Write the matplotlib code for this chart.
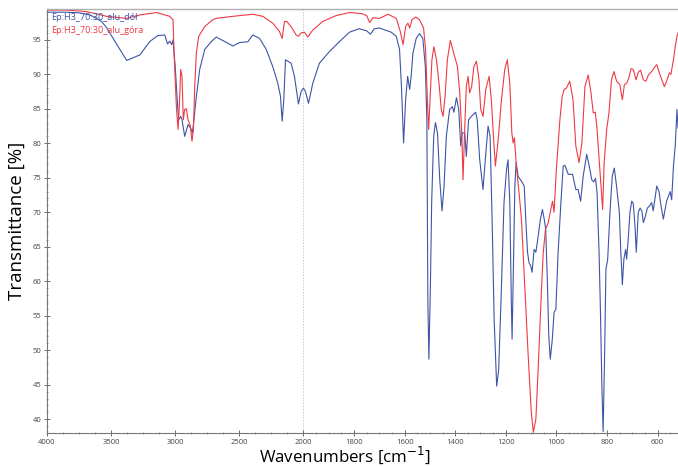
"""FTIR transmittance spectra of the two H3 70:30 samples on aluminium."""

import matplotlib
matplotlib.use("Agg")
import matplotlib.pyplot as plt
import numpy as np
from matplotlib.ticker import FixedLocator, MultipleLocator

plt.rcParams["font.family"] = ["Open Sans", "DejaVu Sans"]

BLUE_LABEL = "Ep:H3_70:30_alu_dół"
RED_LABEL = "Ep:H3_70:30_alu_góra"

# wavenumber [cm-1], transmittance [%]
blue_wn = [4000, 3850, 3750, 3665, 3574, 3533, 3455, 3378, 3276, 3198, 3136, 3082, 3060, 3043,
           3027, 3017, 3000, 2983, 2973, 2957, 2947, 2926, 2900, 2880, 2866, 2854, 2835, 2809,
           2770, 2720, 2680, 2620, 2550, 2498, 2434, 2395, 2342, 2290, 2239, 2200, 2179, 2166,
           2153, 2140, 2122, 2096, 2070, 2039, 2018, 2000, 1992, 1980, 1963, 1937, 1897, 1857,
           1818, 1780, 1750, 1735, 1720, 1699, 1653, 1633, 1620, 1613, 1604, 1596, 1588, 1580,
           1574, 1567, 1554, 1541, 1528, 1518, 1512, 1508, 1504, 1498, 1493, 1485, 1478, 1470,
           1461, 1452, 1444, 1435, 1422, 1411, 1405, 1395, 1386, 1378, 1372, 1362, 1356, 1347,
           1336, 1319, 1313, 1303, 1290, 1281, 1270, 1262, 1254, 1246, 1236, 1228, 1217, 1207,
           1197, 1191, 1184, 1178, 1175, 1170, 1164, 1159, 1151, 1138, 1127, 1121, 1114, 1108,
           1101, 1096, 1088, 1081, 1072, 1063, 1055, 1048, 1042, 1035, 1030, 1024, 1016, 1009,
           1002, 993, 982, 973, 966, 953, 936, 923, 914, 904, 894, 880, 870, 860, 852, 845,
           839, 831, 825, 820, 815, 809, 804, 797, 788, 779, 771, 762, 751, 745, 739, 733,
           726, 722, 715, 709, 702, 696, 689, 684, 676, 669, 662, 656, 649, 640, 632, 623,
           617, 603, 594, 586, 577, 570, 564, 557, 550, 544, 537, 530, 523, 519]
blue_t = [99.0, 99.0, 98.9, 98.6, 97.65, 96.7, 94.3, 92.0, 92.8, 94.75, 95.6, 95.7, 94.4, 94.8,
          94.3, 95.0, 91.1, 85.9, 83.4, 83.9, 83.4, 81.0, 82.7, 82.2, 81.5, 83.4, 86.8, 90.7,
          93.6, 94.7, 95.4, 94.8, 94.1, 94.6, 94.7, 95.7, 95.2, 93.6, 91.1, 88.7, 86.8, 83.2,
          86.3, 92.1, 91.9, 91.6, 89.7, 85.7, 87.5, 88.0, 87.5, 85.8, 88.7, 91.6, 93.3, 94.75,
          96.1, 96.6, 96.3, 95.8, 96.6, 96.7, 96.1, 95.5, 93.6, 88.7, 80.05, 86.3, 89.7, 87.8,
          89.7, 93.1, 95.2, 95.9, 95.2, 91.1, 83.4, 56.9, 48.7, 59.3, 71.4, 81.0, 83.0, 81.5,
          74.7, 70.2, 73.8, 81.0, 84.9, 85.3, 84.5, 86.6, 84.9, 79.6, 81.5, 81.5, 78.1, 83.4,
          83.9, 84.5, 83.4, 77.6, 73.3, 77.6, 82.5, 81.0, 69.0, 54.5, 44.8, 47.2, 59.3, 71.4,
          76.2, 77.6, 71.4, 56.9, 51.6, 61.7, 73.8, 77.2, 75.2, 74.5, 73.8, 69.0, 64.2, 62.7,
          62.2, 61.3, 64.6, 64.2, 66.5, 69.0, 70.4, 69.0, 67.5, 59.3, 52.1, 48.7, 51.6, 55.5,
          55.9, 64.2, 71.4, 76.7, 76.8, 75.5, 75.5, 73.3, 73.3, 71.6, 75.2, 78.4, 76.7, 74.7, 74.4, 74.9,
          72.8, 64.1, 54.5, 44.8, 38.2, 49.7, 61.7, 63.2, 70.0, 75.2, 76.4, 73.8, 70.0, 64.2, 59.5, 63.2,
          64.6, 63.2, 66.5, 70.0, 71.6, 71.3, 68.0, 64.2, 70.0, 70.6, 70.2, 68.5, 69.3, 70.6, 70.9, 71.4,
          70.2, 73.8, 73.0, 70.9, 69.0, 70.4, 71.6, 72.3, 73.0, 71.8, 76.7, 79.6, 84.9, 82.2]

red_wn = [4000, 3850, 3700, 3600, 3536, 3380, 3276, 3146, 3043, 3017, 3009, 2991, 2978, 2967,
          2957, 2947, 2937, 2926, 2913, 2900, 2882, 2869, 2858, 2848, 2835, 2817, 2770, 2708,
          2680, 2550, 2395, 2317, 2239, 2187, 2166, 2148, 2130, 2096, 2057, 2039, 2018, 1996,
          1983, 1963, 1924, 1871, 1818, 1770, 1750, 1738, 1725, 1699, 1666, 1633, 1617, 1606,
          1596, 1587, 1580, 1571, 1556, 1541, 1525, 1517, 1510, 1505, 1498, 1492, 1484, 1474,
          1464, 1455, 1448, 1440, 1431, 1419, 1406, 1391, 1382, 1374, 1369, 1362, 1356, 1349,
          1343, 1335, 1326, 1316, 1306, 1299, 1290, 1279, 1266, 1257, 1248, 1241, 1230, 1217,
          1204, 1194, 1184, 1176, 1171, 1166, 1158, 1145, 1138, 1125, 1112, 1099, 1091, 1081,
          1072, 1061, 1052, 1043, 1032, 1022, 1015, 1009, 1000, 986, 977, 969, 960, 947, 934,
          923, 910, 899, 887, 874, 863, 854, 846, 839, 828, 817, 811, 801, 792, 782, 772, 762,
          749, 739, 731, 722, 713, 705, 696, 685, 676, 667, 656, 646, 636, 623, 610, 603, 593,
          583, 573, 564, 553, 547, 537, 530, 523, 519]
red_t = [99.3, 99.3, 99.1, 98.7, 98.4, 98.1, 98.6, 98.95, 98.4, 97.9, 93.1, 85.35, 82.0, 85.8,
         90.7, 89.7, 83.4, 84.9, 85.0, 83.4, 82.5, 80.3, 82.0, 88.2, 93.1, 95.5, 96.9, 97.9,
         98.1, 98.4, 98.7, 98.4, 97.4, 96.2, 95.2, 97.65, 97.65, 96.9, 95.7, 95.5, 96.0, 96.1,
         95.4, 96.4, 97.65, 98.5, 98.95, 98.8, 98.5, 97.5, 98.2, 98.1, 98.7, 98.1, 96.2, 94.3,
         96.9, 97.4, 96.7, 97.9, 98.3, 97.9, 96.7, 93.55, 86.3, 82.0, 87.3, 92.1, 94.0, 92.1,
         88.7, 84.9, 83.9, 86.8, 92.1, 94.9, 93.1, 91.1, 87.3, 81.5, 74.7, 82.5, 88.2, 89.7,
         87.3, 88.2, 91.1, 91.9, 89.2, 84.9, 83.9, 87.8, 89.7, 86.3, 80.5, 76.7, 80.5, 86.3,
         90.7, 92.1, 88.7, 81.5, 80.05, 80.8, 76.7, 71.85, 69.0, 59.3, 49.7, 41.0, 38.1, 40.0,
         47.2, 56.9, 64.1, 67.5, 68.5, 70.4, 71.6, 70.0, 76.2, 83.4, 86.8, 87.8, 88.0, 89.0, 86.3,
         79.6, 77.2, 80.05, 88.2, 89.9, 87.3, 84.4, 84.5, 82.0, 76.2, 70.4, 77.2, 82.0, 84.4, 89.2, 90.4, 89.0,
         88.5, 86.3, 88.5, 88.7, 89.5, 90.8, 90.7, 89.2, 90.3, 90.6, 89.2, 89.0, 89.9, 90.4, 91.1, 91.4, 90.2,
         89.2, 88.2, 89.0, 90.2, 90.0, 92.1, 94.0, 95.5, 96.0]

x_major = [4000, 3500, 3000, 2500, 2000, 1800, 1600, 1400, 1200, 1000, 800, 600]

# spectrometer style axis: the range above 2000 cm-1 is compressed by about half
BREAK = 2000.0
SQUEEZE = 0.507


def forward(w):
    w = np.asarray(w, dtype=float)
    return np.where(w > BREAK, BREAK + (w - BREAK) * SQUEEZE, w)


def inverse(t):
    t = np.asarray(t, dtype=float)
    return np.where(t > BREAK, BREAK + (t - BREAK) / SQUEEZE, t)


def main():
    fig = plt.figure(figsize=(6.78, 4.66), dpi=100)
    ax = fig.add_axes([0.0693, 0.0708, 0.9307, 0.909])
    ax.set_xscale("function", functions=(forward, inverse))

    ax.plot(blue_wn, blue_t, color="#3d55a6", linewidth=0.8, label=BLUE_LABEL)
    ax.plot(red_wn, red_t, color="#ee3a44", linewidth=0.8, label=RED_LABEL)
    ax.axvline(BREAK, color="#c8c8c8", linewidth=0.7, linestyle=(0, (1.5, 1.5)), zorder=0)

    ax.set_xlim(4000, 519)
    ax.set_ylim(38.0, 99.4)

    ax.xaxis.set_major_locator(FixedLocator(x_major))
    minor = list(np.arange(3875, 2000, -125)) + list(np.arange(1950, 500, -50))
    ax.xaxis.set_minor_locator(FixedLocator([m for m in minor if m not in x_major]))
    ax.yaxis.set_major_locator(MultipleLocator(5))
    ax.yaxis.set_minor_locator(MultipleLocator(1))
    ax.set_yticks(np.arange(40, 96, 5))

    ax.tick_params(which="major", direction="inout", length=4, width=0.6,
                   color="#555555", labelsize=5.5, labelcolor="#444444", pad=2)
    ax.tick_params(which="minor", direction="inout", length=2, width=0.5, color="#777777")

    for side in ("left", "bottom"):
        ax.spines[side].set_color("#777777")
        ax.spines[side].set_linewidth(0.8)
    ax.spines["right"].set_visible(False)
    ax.spines["top"].set_color("#b0b0b0")
    ax.spines["top"].set_linewidth(1.0)

    ax.set_xlabel(r"Wavenumbers [cm$^{-1}$]", fontsize=12.2)
    ax.set_ylabel("Transmittance [%]", fontsize=13.5)
    ax.xaxis.set_label_coords(0.472, -0.027)
    ax.yaxis.set_label_coords(-0.034, 0.5)

    ax.legend(loc="upper left", handlelength=0, handletextpad=0, frameon=False,
              labelcolor="linecolor", fontsize=6.6, borderaxespad=0.2, borderpad=0.2,
              labelspacing=0.45)

    fig.savefig("out.png", dpi=100)
    plt.close(fig)


if __name__ == "__main__":
    main()
